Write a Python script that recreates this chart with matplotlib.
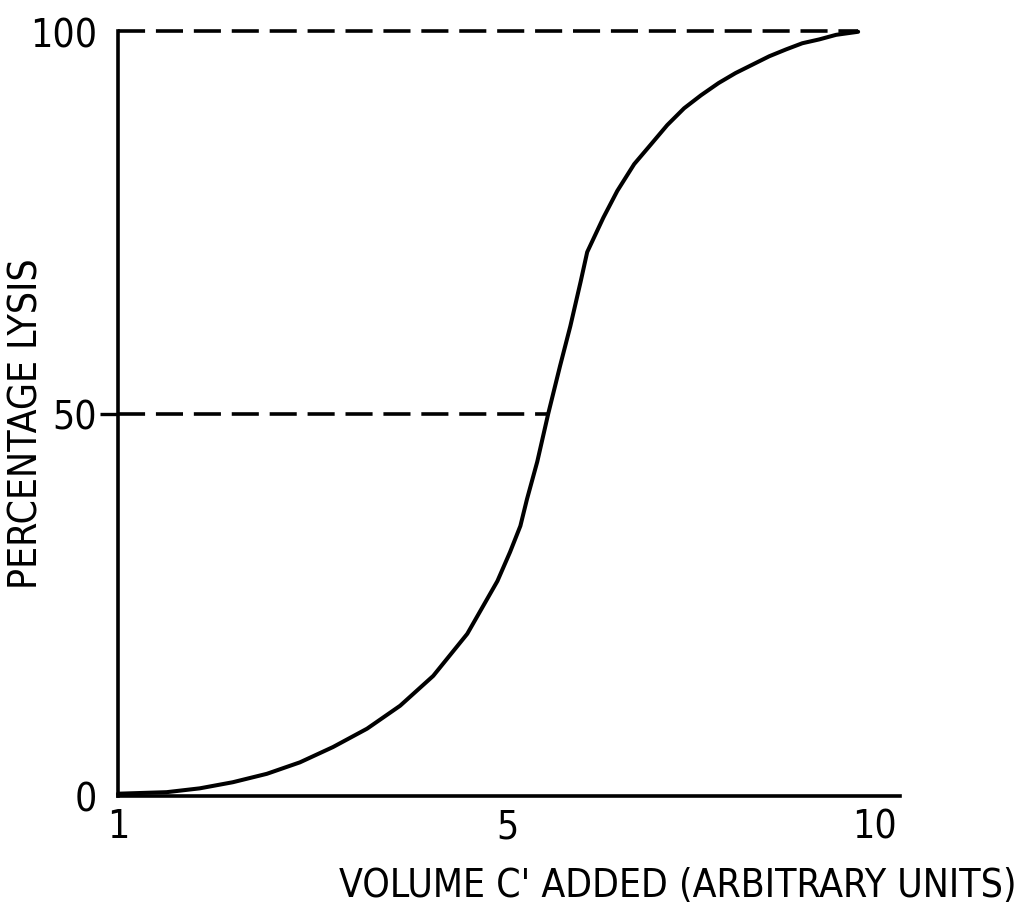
import numpy as np
import matplotlib
matplotlib.use("Agg")
import matplotlib.pyplot as plt

plt.rcParams['font.family'] = ['DejaVu Sans']
plt.rcParams['font.stretch'] = 'condensed'

# lysis curve
volume = [1.0, 1.50, 1.84, 2.18, 2.53, 2.87, 3.21, 3.56, 3.90, 4.24, 4.59,
	4.90, 5.04, 5.18, 5.27, 5.41, 5.56, 5.72, 5.86, 6.00, 6.09,
	6.31, 6.50, 6.73, 6.96, 7.18, 7.41, 7.64, 7.88, 8.11, 8.34,
	8.57, 8.80, 9.02, 9.25, 9.48, 9.78]
lysis = [0.3, 0.5, 1.0, 1.8, 2.9, 4.4, 6.4, 8.8, 11.8, 15.7, 21.2,
	28.1, 31.9, 35.3, 38.8, 43.7, 50.0, 56.2, 61.4, 67.2, 71.1,
	75.6, 79.1, 82.6, 85.2, 87.7, 89.9, 91.6, 93.2, 94.5, 95.6,
	96.7, 97.6, 98.4, 98.9, 99.5, 99.9]

half_volume = 5.56
half_lysis = 50
full_volume = 9.78
full_lysis = 100

x_ticks = [1, 5, 10]
y_ticks = [0, 50, 100]


# the hand-drawn axis is not evenly spaced between 1-5 and 5-10
def fwd(x):
	x = np.asarray(x, dtype=float)
	return np.where(x <= 5, (x - 1) * 389 / 4, 389 + (x - 5) * 367 / 5)

def inv(u):
	u = np.asarray(u, dtype=float)
	return np.where(u <= 389, 1 + u * 4 / 389, 5 + (u - 389) * 5 / 367)


fig = plt.figure(figsize=(10.23, 9.12), dpi=100)
ax = fig.add_axes([118 / 1023, 115 / 912, 782 / 1023, 765 / 912])

ax.set_xscale('function', functions=(fwd, inv))
ax.plot(volume, lysis, color='black', lw=2.9, solid_capstyle='round',
	solid_joinstyle='round', zorder=3, clip_on=False)

ax.plot([1, half_volume], [half_lysis, half_lysis], color='black', lw=2.6,
	dashes=(7.5, 3), zorder=2, clip_on=False)
ax.plot([1, full_volume], [full_lysis, full_lysis], color='black', lw=2.6,
	dashes=(7.5, 3), zorder=2, clip_on=False)

ax.set_xlim(1, 10.35)
ax.set_ylim(0, 100)

for side in ['top', 'right']:
	ax.spines[side].set_visible(False)
for side in ['left', 'bottom']:
	ax.spines[side].set_linewidth(2.6)

ax.set_xticks(x_ticks)
ax.set_xticklabels([str(t) for t in x_ticks])
ax.set_yticks(y_ticks)
ax.set_yticklabels([str(t) for t in y_ticks])
ax.tick_params(axis='x', length=0, pad=8, labelsize=28)
ax.tick_params(axis='y', length=13, width=2.4, pad=2, labelsize=28)
ax.minorticks_off()

# only the 50 mark carries a tick line
for t, v in zip(ax.yaxis.get_major_ticks(), y_ticks):
	if v != 50:
		t.tick1line.set_visible(False)

fig.text(27 / 1023, 1 - 424 / 912, 'PERCENTAGE LYSIS', rotation=90,
	ha='center', va='center', fontsize=28)
fig.text(678 / 1023, 1 - 886 / 912, "VOLUME C' ADDED (ARBITRARY UNITS)",
	ha='center', va='center', fontsize=28)

fig.savefig('out.png', dpi=100, facecolor='white')
